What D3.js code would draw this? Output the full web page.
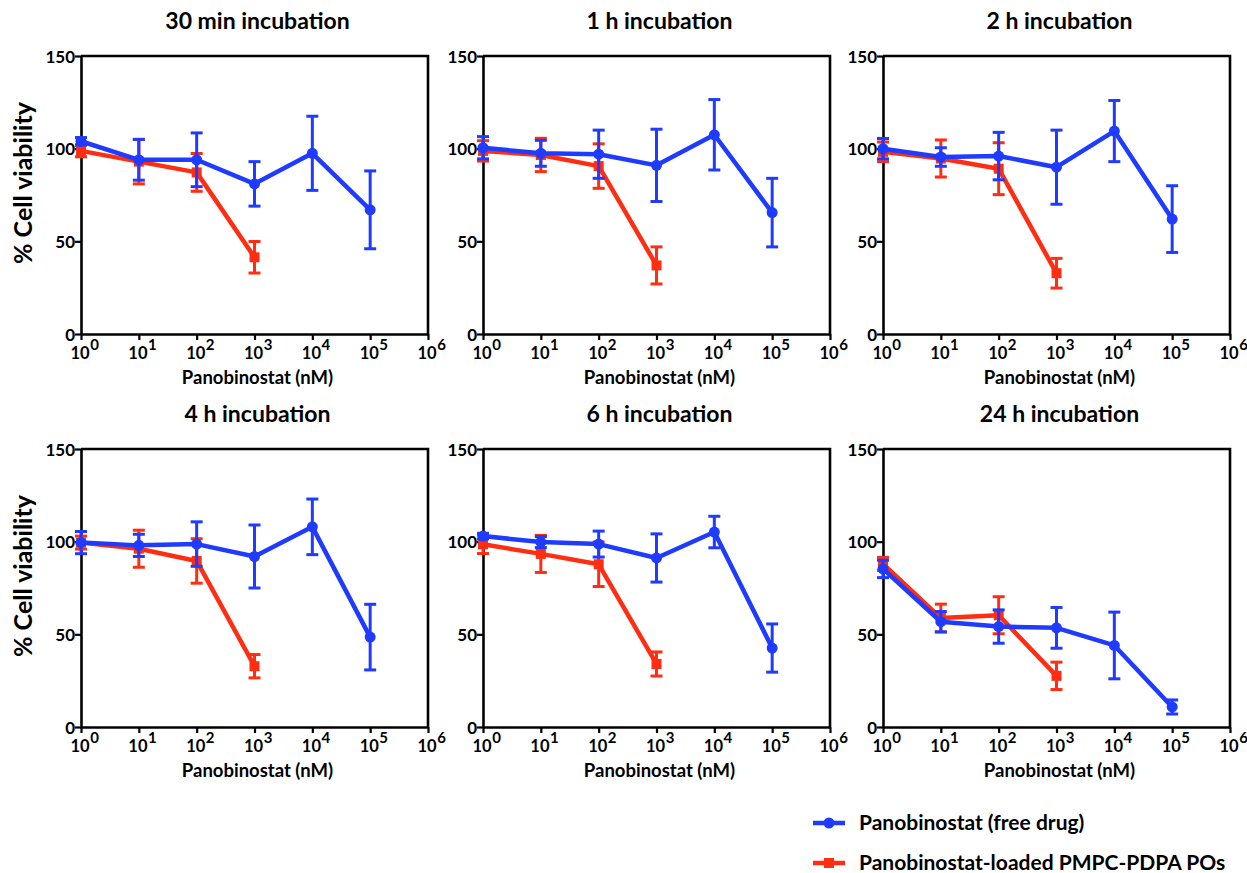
<!DOCTYPE html>
<html>
<head>
<meta charset="utf-8">
<script src="https://cdn.jsdelivr.net/npm/d3@7"></script>
<style>
  html, body { margin: 0; padding: 0; background: #fff; }
  svg { display: block; font-family: Lato, "Open Sans", sans-serif; }
</style>
</head>
<body>
<svg id="chart" width="1247" height="873"></svg>
<script>
// ---------- data ----------
const panelTitles = ["30 min incubation", "1 h incubation", "2 h incubation",
                     "4 h incubation", "6 h incubation", "24 h incubation"];
const concentrations = [1, 10, 100, 1000, 10000, 100000];          // nM
const loadedConcentrations = [1, 10, 100, 1000];                     // nM
const xTickExponents = [0, 1, 2, 3, 4, 5, 6];
const yTicks = [0, 50, 100, 150];
const seriesNames = ["Panobinostat (free drug)", "Panobinostat-loaded PMPC-PDPA POs"];

// free drug (blue) mean and SD per panel
const freeMean = [
  [104, 94, 94, 81, 97.5, 67],
  [100.5, 97.5, 97, 91, 107.5, 65.5],
  [100, 95.5, 96, 90, 109.5, 62],
  [99.5, 98, 98.7, 92, 108, 48.5],
  [103, 99.8, 98.7, 91.2, 105.2, 42.6],
  [85.3, 56.8, 54.2, 53.5, 44, 10.8]
];
const freeErr = [
  [2, 11, 14.5, 12, 20, 21],
  [6, 7, 13, 19.5, 19, 18.5],
  [5.5, 5, 12.8, 20, 16.5, 18],
  [6, 6, 12, 17, 15, 17.7],
  [1.5, 3, 7, 13, 8.5, 13],
  [4.7, 5.5, 9, 11, 18, 3.8]
];
// loaded POs (red) mean and SD per panel
const loadedMean = [
  [98.8, 93, 87.2, 41.4],
  [98.8, 96.6, 90.6, 37],
  [98.3, 94.7, 89.2, 32.8],
  [99.5, 96.2, 89.6, 32.8],
  [98.6, 93.4, 87.8, 34],
  [88, 58.8, 60.3, 27.6]
];
const loadedErr = [
  [3.2, 12, 10.2, 8.5],
  [5.5, 9, 12, 10],
  [5.3, 10, 14, 8],
  [3.5, 10, 12, 6.3],
  [5, 10, 12, 6.5],
  [3.5, 7.5, 10, 7.4]
];

// ---------- layout ----------
const blue = "#1f3bff";
const red = "#ff2d12";
const colLeft = [81, 483, 883];
const rowTop = [56, 449];
const plotW = 347, plotH = 278;

const svg = d3.select("#chart");

panelTitles.forEach((title, i) => {
  const col = i % 3, row = Math.floor(i / 3);
  const g = svg.append("g").attr("transform", `translate(${colLeft[col]},${rowTop[row]})`);

  const x = d3.scaleLog().domain([1, 1e6]).range([0, plotW]);
  const y = d3.scaleLinear().domain([0, 150]).range([plotH, 0]);

  // frame (top & right)
  g.append("path")
    .attr("d", `M0,0H${plotW}V${plotH}`)
    .attr("fill", "none").attr("stroke", "#000").attr("stroke-width", 2.6);

  // y axis
  const yAxis = g.append("g").call(d3.axisLeft(y).tickValues(yTicks).tickSize(6).tickSizeOuter(0).tickFormat(d3.format("d")));
  yAxis.select(".domain").attr("stroke-width", 2.6);
  yAxis.selectAll(".tick line").attr("stroke-width", 2.2);
  yAxis.selectAll(".tick text")
    .attr("x", -6).attr("dy", "0.36em")
    .attr("font-size", 17).attr("font-weight", 700).attr("fill", "#000")
    .style("font-family", "Lato, sans-serif");

  // x axis
  const xAxis = g.append("g").attr("transform", `translate(0,${plotH})`)
    .call(d3.axisBottom(x).tickValues(xTickExponents.map(e => Math.pow(10, e))).tickSize(6).tickSizeOuter(0).tickFormat(""));
  xAxis.select(".domain").attr("stroke-width", 2.6);
  xAxis.selectAll(".tick line").attr("stroke-width", 2.2);
  xAxis.selectAll(".tick").each(function(d, k) {
    const t = d3.select(this).append("text")
      .attr("x", -11).attr("y", 25)
      .attr("text-anchor", "start")
      .attr("fill", "#000").attr("font-size", 16.5).attr("font-weight", 700)
      .style("font-family", "Lato, sans-serif");
    t.append("tspan").text("10");
    t.append("tspan").attr("dx", 0.5).attr("dy", -9).attr("font-size", 15).text(xTickExponents[k]);
  });

  // x label
  g.append("text")
    .attr("x", plotW / 2 + 3).attr("y", plotH + 50)
    .attr("text-anchor", "middle")
    .attr("font-size", 18.5).attr("font-weight", 700)
    .text("Panobinostat (nM)");

  // title
  g.append("text")
    .attr("x", plotW / 2 + 3).attr("y", -27)
    .attr("text-anchor", "middle")
    .attr("font-size", 23).attr("font-weight", 700)
    .text(title);

  // y label
  if (col === 0) {
    g.append("text")
      .attr("transform", `translate(${-49},${plotH / 2 - 12}) rotate(-90)`)
      .attr("text-anchor", "middle")
      .attr("font-size", 25).attr("font-weight", 700)
      .text("% Cell viability");
  }

  const line = d3.line().x(d => x(d.c)).y(d => y(d.m));

  function drawSeries(concs, means, errs, color, shape) {
    const data = concs.map((c, k) => ({ c, m: means[k], e: errs[k] }));
    const s = g.append("g");
    // error bars
    const eb = s.selectAll(".eb").data(data).enter().append("g");
    eb.append("line")
      .attr("x1", d => x(d.c)).attr("x2", d => x(d.c))
      .attr("y1", d => y(d.m + d.e)).attr("y2", d => y(d.m - d.e))
      .attr("stroke", color).attr("stroke-width", 3);
    [1, -1].forEach(sign => {
      eb.append("line")
        .attr("x1", d => x(d.c) - 6).attr("x2", d => x(d.c) + 6)
        .attr("y1", d => y(d.m + sign * d.e)).attr("y2", d => y(d.m + sign * d.e))
        .attr("stroke", color).attr("stroke-width", 3);
    });
    s.append("path").datum(data)
      .attr("d", line).attr("fill", "none")
      .attr("stroke", color).attr("stroke-width", 4.5).attr("stroke-linejoin", "round");
    if (shape === "circle") {
      s.selectAll(".pt").data(data).enter().append("circle")
        .attr("cx", d => x(d.c)).attr("cy", d => y(d.m)).attr("r", 5.5).attr("fill", color);
    } else {
      s.selectAll(".pt").data(data).enter().append("rect")
        .attr("x", d => x(d.c) - 5).attr("y", d => y(d.m) - 5)
        .attr("width", 10).attr("height", 10).attr("fill", color);
    }
  }

  drawSeries(loadedConcentrations, loadedMean[i], loadedErr[i], red, "square");
  drawSeries(concentrations, freeMean[i], freeErr[i], blue, "circle");
});

// ---------- legend ----------
const legend = svg.append("g").attr("transform", "translate(813,823)");
const legendColors = [blue, red];
const legendShapes = ["circle", "square"];
seriesNames.forEach((name, k) => {
  const lg = legend.append("g").attr("transform", `translate(0,${k * 40})`);
  lg.append("line").attr("x1", 0).attr("x2", 32).attr("y1", 0).attr("y2", 0)
    .attr("stroke", legendColors[k]).attr("stroke-width", 4.5);
  if (legendShapes[k] === "circle") {
    lg.append("circle").attr("cx", 16).attr("cy", 0).attr("r", 5.5).attr("fill", legendColors[k]);
  } else {
    lg.append("rect").attr("x", 11).attr("y", -5).attr("width", 10).attr("height", 10).attr("fill", legendColors[k]);
  }
  lg.append("text").attr("x", 46).attr("y", 0).attr("dy", "0.35em")
    .attr("font-size", 21).attr("font-weight", 700).text(name);
});
</script>
</body>
</html>
